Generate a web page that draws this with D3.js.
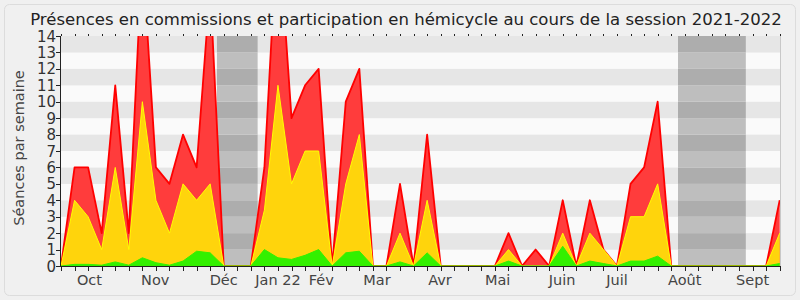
<!DOCTYPE html>
<html>
<head>
<meta charset="utf-8">
<script src="https://cdn.jsdelivr.net/npm/d3@7"></script>
<style>
  body { margin: 0; background: #f0f0f0; }
  svg { display: block; font-family: "DejaVu Sans", sans-serif; }
</style>
</head>
<body>
<svg id="chart" width="800" height="300"></svg>
<script>
// weekly values, session 2021-2022 (week 0 .. 53)
var presences = [0, 6, 6, 2, 11, 2, 19, 6, 5, 8, 6, 17, 0, 0, 0, 6, 21, 9, 11, 12,
  0, 10, 12, 0, 0, 5, 0, 8, 0, 0, 0, 0, 0, 2, 0, 1, 0, 4, 0, 4,
  1, 0, 5, 6, 10, 0, 0, 0, 0, 0, 0, 0, 0, 4]
var hemicycle = [0, 4, 3, 1, 6, 1, 10, 4, 2, 5, 4, 5, 0, 0, 0, 3.4, 11, 5, 7, 7,
  0, 5, 8, 0, 0, 2, 0, 4, 0, 0, 0, 0, 0, 1, 0, 0, 0, 2, 0, 2,
  1, 0, 3, 3, 5, 0, 0, 0, 0, 0, 0, 0, 0, 2]
var interventions = [0, 0.1, 0.1, 0.05, 0.25, 0.05, 0.5, 0.2, 0.05, 0.3, 0.9, 0.8, 0, 0, 0, 1, 0.5, 0.4, 0.65, 1,
  0, 0.8, 0.9, 0, 0, 0.25, 0, 0.8, 0, 0, 0, 0, 0, 0.3, 0, 0, 0, 1.2, 0, 0.3,
  0.15, 0, 0.3, 0.3, 0.6, 0, 0, 0, 0, 0, 0, 0, 0, 0.15]

var monthLabels = ["Oct", "Nov", "Déc", "Jan 22", "Fév", "Mar", "Avr", "Mai", "Juin", "Juil", "Août", "Sept"]
var monthWeeks = [2.1, 6.95, 12, 16, 19.2, 23.3, 27.95, 32.2, 36.95, 41, 46, 51]
var vacations = [[11.5, 14.5], [45.5, 50.5]]
var yTicks = d3.range(0, 15)

var svg = d3.select("#chart")
var pLeft = 61, pRight = 780, pTop = 36, pBottom = 266

var x = d3.scaleLinear().domain([0, presences.length - 1]).range([pLeft, pRight - 0.3])
var y = d3.scaleLinear().domain([0, 14]).range([pBottom, pTop])

// outer frame
svg.append("rect")
   .attr("x", 4.5).attr("y", 4.5).attr("width", 791).attr("height", 291)
   .attr("rx", 5).attr("fill", "#f0f0f0").attr("stroke", "#dcdcdc")

// stripes
svg.selectAll("rect.stripe")
   .data(d3.range(0, 14))
   .enter()
   .append("rect")
   .attr("class", "stripe")
   .attr("x", pLeft).attr("width", pRight - pLeft)
   .attr("y", d => y(d + 1)).attr("height", d => y(d) - y(d + 1))
   .attr("fill", d => d % 2 === 1 ? "#e6e6e6" : "#fafafa")

// vacation bands
vacations.forEach(function(v) {
  svg.selectAll(null)
     .data(d3.range(0, 14))
     .enter()
     .append("rect")
     .attr("x", x(v[0])).attr("width", x(v[1]) - x(v[0]))
     .attr("y", d => y(d + 1)).attr("height", d => y(d) - y(d + 1))
     .attr("fill", d => d % 2 === 1 ? "#adadad" : "#bebebe")
})

svg.append("clipPath").attr("id", "plotclip")
   .append("rect").attr("x", pLeft).attr("y", pTop).attr("width", pRight - pLeft).attr("height", pBottom - pTop)

var plot = svg.append("g").attr("clip-path", "url(#plotclip)")

function drawSeries(values, fill, stroke, sw) {
  var area = d3.area().x((d, i) => x(i)).y0(y(0)).y1(d => y(d))
  var line = d3.line().x((d, i) => x(i)).y(d => y(d))
  plot.append("path").datum(values).attr("d", area).attr("fill", fill)
  plot.append("path").datum(values).attr("d", line)
      .attr("fill", "none").attr("stroke", stroke).attr("stroke-width", sw)
      .attr("stroke-linejoin", "round")
}

drawSeries(presences, "#ff3c3c", "#ff0000", 1.8)
drawSeries(hemicycle, "#ffd40c", "#ffff00", 1)
drawSeries(interventions, "#33f000", "#33f000", 1)

// right frame
svg.append("line").attr("x1", pRight + 0.5).attr("x2", pRight + 0.5).attr("y1", pTop).attr("y2", pBottom)
   .attr("stroke", "#c8c8c8")

// x axis (bottom) with weekly ticks
var weeks = d3.range(0, presences.length)
svg.append("line").attr("x1", pLeft).attr("x2", pRight).attr("y1", pBottom + 0.5).attr("y2", pBottom + 0.5)
   .attr("stroke", "#222")
svg.selectAll("line.xtick")
   .data(weeks)
   .enter()
   .append("line")
   .attr("class", "xtick")
   .attr("x1", d => Math.round(x(d)) + 0.5).attr("x2", d => Math.round(x(d)) + 0.5)
   .attr("y1", pBottom).attr("y2", pBottom + 5)
   .attr("stroke", "#222")
svg.selectAll("line.ttick")
   .data(weeks)
   .enter()
   .append("line")
   .attr("class", "ttick")
   .attr("x1", d => Math.round(x(d)) + 0.5).attr("x2", d => Math.round(x(d)) + 0.5)
   .attr("y1", pTop - 2).attr("y2", pTop)
   .attr("stroke", "#222")

svg.selectAll("text.month")
   .data(monthLabels)
   .enter()
   .append("text")
   .attr("class", "month")
   .attr("x", (d, i) => x(monthWeeks[i]))
   .attr("y", 285)
   .attr("text-anchor", "middle")
   .attr("font-size", 14.5)
   .attr("fill", "#444")
   .text(d => d)

// y axis
svg.append("line").attr("x1", pLeft - 0.5).attr("x2", pLeft - 0.5).attr("y1", pTop).attr("y2", pBottom)
   .attr("stroke", "#222")
svg.selectAll("line.ytick")
   .data(yTicks)
   .enter()
   .append("line")
   .attr("class", "ytick")
   .attr("x1", pLeft - 5).attr("x2", pLeft)
   .attr("y1", d => Math.round(y(d)) + 0.5).attr("y2", d => Math.round(y(d)) + 0.5)
   .attr("stroke", "#222")
svg.selectAll("text.ylab")
   .data(yTicks)
   .enter()
   .append("text")
   .attr("class", "ylab")
   .attr("x", pLeft - 5)
   .attr("y", d => y(d) + 5.5)
   .attr("text-anchor", "end")
   .attr("font-size", 15)
   .attr("fill", "#333")
   .text(d => d)

svg.append("text")
   .attr("transform", "translate(24," + 148 + ") rotate(-90)")
   .attr("text-anchor", "middle")
   .attr("font-size", 14.5)
   .attr("fill", "#444")
   .text("Séances par semaine")

// title, sized so it spans the same width as the original
var title = svg.append("text")
   .attr("x", 406).attr("y", 25)
   .attr("text-anchor", "middle")
   .attr("font-size", 17)
   .attr("fill", "#222")
   .text("Présences en commissions et participation en hémicycle au cours de la session 2021-2022")
var tw = title.node().getComputedTextLength()
title.attr("font-size", Math.min(17, 17 * 752 / tw))
</script>
</body>
</html>
